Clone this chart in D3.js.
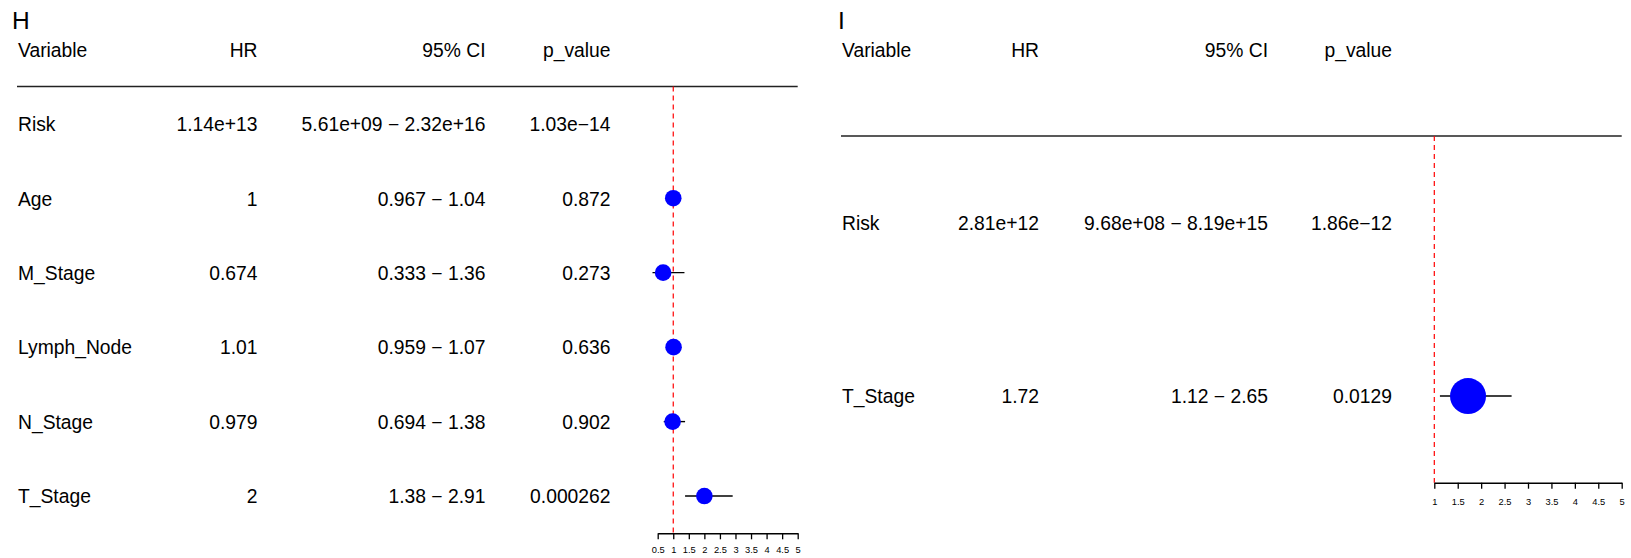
<!DOCTYPE html>
<html>
<head>
<meta charset="utf-8">
<script src="https://cdn.jsdelivr.net/npm/d3@7"></script>
<style>
  html, body { margin: 0; padding: 0; background: #fff; }
  svg { display: block; font-family: "Liberation Sans", Arial, Helvetica, sans-serif; }
</style>
</head>
<body>
<svg id="chart" width="1631" height="558"></svg>
<script>
// ---------- data ----------
const columnHeaders = ["Variable", "HR", "95% CI", "p_value"];

// Panel H
const hVariables = ["Risk", "Age", "M_Stage", "Lymph_Node", "N_Stage", "T_Stage"];
const hHR        = [1.14e13, 1, 0.674, 1.01, 0.979, 2];
const hLower     = [5.61e9, 0.967, 0.333, 0.959, 0.694, 1.38];
const hUpper     = [2.32e16, 1.04, 1.36, 1.07, 1.38, 2.91];
const hHRText    = ["1.14e+13", "1", "0.674", "1.01", "0.979", "2"];
const hCIText    = ["5.61e+09 \u2212 2.32e+16", "0.967 \u2212 1.04", "0.333 \u2212 1.36", "0.959 \u2212 1.07", "0.694 \u2212 1.38", "1.38 \u2212 2.91"];
const hPText     = ["1.03e\u221214", "0.872", "0.273", "0.636", "0.902", "0.000262"];
const hTicks     = [0.5, 1, 1.5, 2, 2.5, 3, 3.5, 4, 4.5, 5];

// Panel I
const iVariables = ["Risk", "T_Stage"];
const iHR        = [2.81e12, 1.72];
const iLower     = [9.68e8, 1.12];
const iUpper     = [8.19e15, 2.65];
const iHRText    = ["2.81e+12", "1.72"];
const iCIText    = ["9.68e+08 \u2212 8.19e+15", "1.12 \u2212 2.65"];
const iPText     = ["1.86e\u221212", "0.0129"];
const iTicks     = [1, 1.5, 2, 2.5, 3, 3.5, 4, 4.5, 5];

// ---------- layout ----------
const svg = d3.select("#chart");
const FS = 19.3;

function drawPanel(cfg) {
  const g = svg.append("g");
  const rows = cfg.vars.map((v, i) => ({
    v, hr: cfg.hr[i], lo: cfg.lo[i], hi: cfg.hi[i],
    hrT: cfg.hrT[i], ciT: cfg.ciT[i], pT: cfg.pT[i]
  }));

  const x = d3.scaleLinear().domain([cfg.ticks[0], cfg.ticks[cfg.ticks.length - 1]]).range([cfg.x0, cfg.x1]);
  const y = d3.scaleBand().domain(cfg.vars).range([cfg.lineY, cfg.axisY]).padding(0);
  const yc = v => y(v) + y.bandwidth() / 2;

  // panel letter
  g.append("text").attr("x", cfg.letterX).attr("y", 29)
    .attr("font-size", 24.5).attr("fill", "#000").text(cfg.letter);

  // header
  const anchors = ["start", "end", "end", "end"];
  columnHeaders.forEach((h, j) => {
    g.append("text").attr("x", cfg.cols[j]).attr("y", 56.5)
      .attr("text-anchor", anchors[j]).attr("font-size", FS).attr("fill", "#000").text(h);
  });

  // header line
  g.append("line").attr("x1", cfg.cols[0] - 1).attr("x2", cfg.x1)
    .attr("y1", cfg.lineY).attr("y2", cfg.lineY)
    .attr("stroke", "#222").attr("stroke-width", 1.6);

  // row text
  const keys = ["v", "hrT", "ciT", "pT"];
  rows.forEach(r => {
    keys.forEach((k, j) => {
      g.append("text").attr("x", cfg.cols[j]).attr("y", yc(r.v) + 7.3)
        .attr("text-anchor", anchors[j]).attr("font-size", FS).attr("fill", "#000").text(r[k]);
    });
  });

  // reference line at HR = 1
  g.append("line").attr("x1", x(1)).attr("x2", x(1))
    .attr("y1", cfg.lineY).attr("y2", cfg.axisY)
    .attr("stroke", "#ff0000").attr("stroke-width", 1.2).attr("stroke-dasharray", "5,4");

  // CIs and points (only for rows whose HR lies on the axis)
  const vis = rows.filter(r => r.hr >= x.domain()[0] && r.hr <= x.domain()[1]);
  g.selectAll(".ci").data(vis).enter().append("line")
    .attr("x1", d => x(d.lo)).attr("x2", d => x(d.hi))
    .attr("y1", d => yc(d.v)).attr("y2", d => yc(d.v))
    .attr("stroke", "#000").attr("stroke-width", 1.4);
  g.selectAll(".pt").data(vis).enter().append("circle")
    .attr("cx", d => x(d.hr)).attr("cy", d => yc(d.v)).attr("r", cfg.r)
    .attr("fill", "#0000ff");

  // axis
  const ax = g.append("g").attr("transform", `translate(0,${cfg.axisY})`)
    .call(d3.axisBottom(x).tickValues(cfg.ticks).tickFormat(d3.format("")).tickSize(6).tickSizeOuter(0).tickPadding(cfg.tickPad));
  ax.select(".domain").attr("stroke", "#000").attr("stroke-width", 1.5);
  ax.selectAll(".tick line").attr("stroke", "#000").attr("stroke-width", 1.3);
  ax.selectAll(".tick text").attr("font-size", 9.3).attr("fill", "#000")
    .attr("font-family", "'Liberation Sans', Arial, sans-serif");
}

drawPanel({
  letter: "H", letterX: 12,
  vars: hVariables, hr: hHR, lo: hLower, hi: hUpper,
  hrT: hHRText, ciT: hCIText, pT: hPText, ticks: hTicks,
  cols: [18, 257.5, 485.5, 610.5],
  x0: 657.7, x1: 797.7, lineY: 86.5, axisY: 533.3, r: 8.3, tickPad: 7.5
});

drawPanel({
  letter: "I", letterX: 838,
  vars: iVariables, hr: iHR, lo: iLower, hi: iUpper,
  hrT: iHRText, ciT: iCIText, pT: iPText, ticks: iTicks,
  cols: [842, 1039, 1268, 1392],
  x0: 1434.3, x1: 1621.7, lineY: 136, axisY: 482.7, r: 18, tickPad: 9.5
});
</script>
</body>
</html>
